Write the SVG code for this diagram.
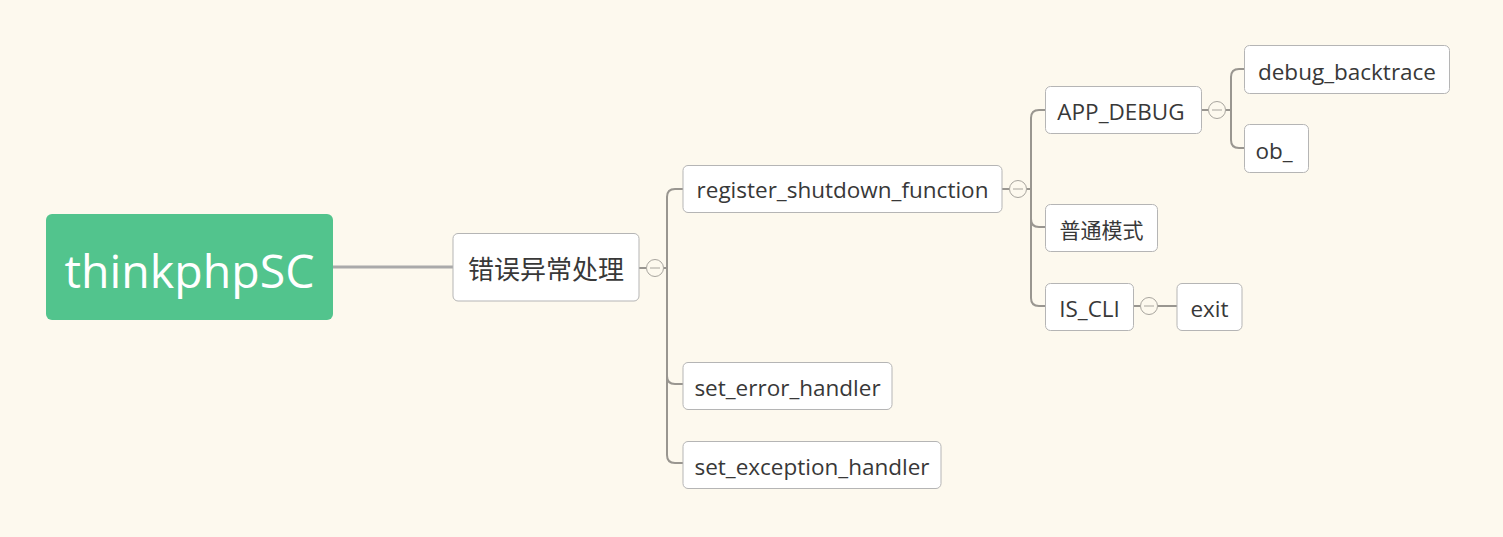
<svg xmlns="http://www.w3.org/2000/svg" width="1503" height="537" viewBox="0 0 1503 537">
<style>
.node rect{fill:#ffffff;stroke:#b5b5b5;stroke-width:1}
.node text{font-family:"Open Sans","Noto Sans CJK SC",sans-serif;font-size:22.5px;fill:#383838}
.node text.cjk{font-family:"Noto Sans CJK SC",sans-serif;font-size:21px}
.conn path{fill:none;stroke:#999690;stroke-width:2}
.tog circle{fill:#fdf9ee;stroke:#a8a59e;stroke-width:1}
.tog line{stroke:#a8a59e;stroke-width:1}
</style>
<rect x="0" y="0" width="1503" height="537" fill="#fdf9ee"/>
<g id="connectors" class="conn">
<path d="M333 267 H453" style="stroke:#aaaaaa;stroke-width:3"/>
<path d="M639 268 H646 M664 268 H667"/>
<path d="M683 189 H675 Q667 189 667 197 V455 Q667 463 675 463 H683 M667 376 Q667 384 675 384 H683"/>
<path d="M1002 189 H1009 M1027 189 H1031"/>
<path d="M1045 110 H1039 Q1031 110 1031 118 V298 Q1031 306 1039 306 H1045 M1031 219 Q1031 227 1039 227 H1045"/>
<path d="M1201 110 H1208 M1226 110 H1231"/>
<path d="M1244 69 H1239 Q1231 69 1231 77 V140 Q1231 148 1239 148 H1244"/>
<path d="M1133 306 H1140 M1158 306 H1177"/>
</g>
<g id="toggles" class="tog">
<circle cx="655" cy="268" r="8.5"/><line x1="650" y1="268" x2="660" y2="268"/>
<circle cx="1018" cy="189" r="8.5"/><line x1="1013" y1="189" x2="1023" y2="189"/>
<circle cx="1217" cy="110" r="8.5"/><line x1="1212" y1="110" x2="1222" y2="110"/>
<circle cx="1149" cy="306" r="8.5"/><line x1="1144" y1="306" x2="1154" y2="306"/>
</g>
<g id="root">
<rect x="46" y="214" width="287" height="106" rx="6" fill="#52c48d"/>
<text x="189.5" y="288" text-anchor="middle" font-family="Open Sans, sans-serif" font-size="46.5" fill="#ffffff">thinkphpSC</text>
</g>
<g id="n-cuowu" class="node">
<rect x="453" y="233.5" width="186" height="67.5" rx="5"/>
<text class="cjk" x="546" y="279" text-anchor="middle" style="font-size:26px">错误异常处理</text>
</g>
<g id="n-register" class="node">
<rect x="683" y="165.5" width="319" height="47" rx="5"/>
<text x="842.5" y="198" text-anchor="middle">register_shutdown_function</text>
</g>
<g id="n-seterror" class="node">
<rect x="683" y="362.5" width="209" height="47" rx="5"/>
<text x="787.5" y="396" text-anchor="middle">set_error_handler</text>
</g>
<g id="n-setexc" class="node">
<rect x="683" y="441.5" width="258" height="47" rx="5"/>
<text x="812" y="475" text-anchor="middle">set_exception_handler</text>
</g>
<g id="n-appdebug" class="node">
<rect x="1045.5" y="86.5" width="156" height="47" rx="5"/>
<text x="1121" y="120" text-anchor="middle">APP_DEBUG</text>
</g>
<g id="n-putong" class="node">
<rect x="1045.5" y="204.5" width="112" height="47" rx="5"/>
<text class="cjk" x="1101.5" y="238" text-anchor="middle">普通模式</text>
</g>
<g id="n-iscli" class="node">
<rect x="1045.5" y="283.5" width="88" height="47" rx="5"/>
<text x="1089.5" y="317" text-anchor="middle">IS_CLI</text>
</g>
<g id="n-debugbt" class="node">
<rect x="1244.5" y="45.5" width="205" height="48" rx="5"/>
<text x="1347" y="80" text-anchor="middle">debug_backtrace</text>
</g>
<g id="n-ob" class="node">
<rect x="1244.5" y="124.5" width="64" height="48" rx="5"/>
<text x="1274" y="159" text-anchor="middle">ob_</text>
</g>
<g id="n-exit" class="node">
<rect x="1177" y="283.5" width="65" height="47" rx="5"/>
<text x="1209.5" y="317" text-anchor="middle">exit</text>
</g>
</svg>
